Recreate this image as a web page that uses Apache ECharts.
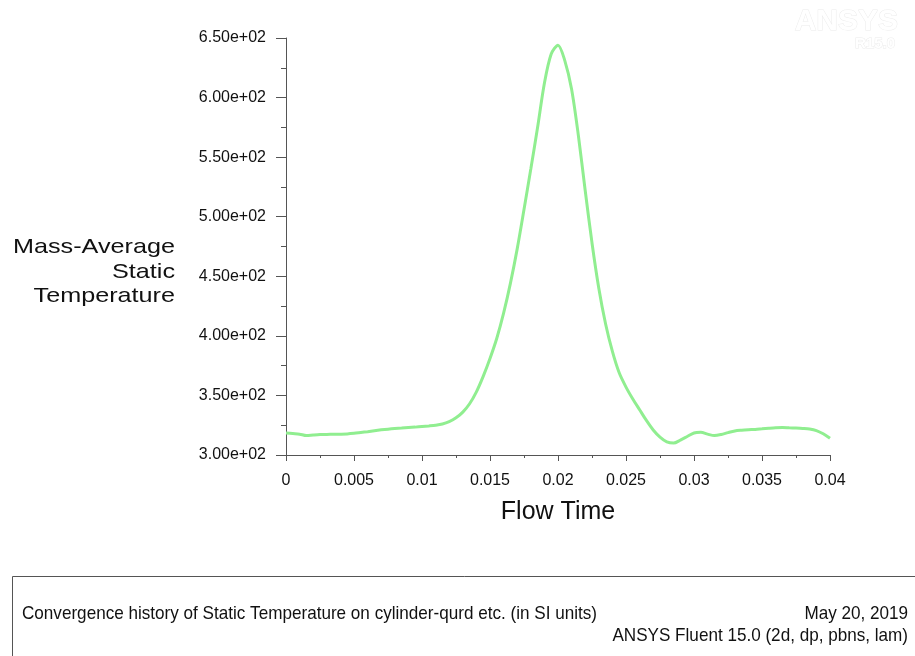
<!DOCTYPE html>
<html>
<head>
<meta charset="utf-8">
<script src="https://cdn.jsdelivr.net/npm/echarts@6/dist/echarts.min.js"></script>
<style>
  html, body { margin: 0; padding: 0; background: #ffffff; }
  #chart { width: 915px; height: 656px; }
</style>
</head>
<body>
<div id="chart"></div>
<script>
// Flow time (s) of each sample
const flowTime = [
  0.0000, 0.0005, 0.0010, 0.0015, 0.0020, 0.0025, 0.0030, 0.0035, 0.0040, 0.0045,
  0.0050, 0.0055, 0.0060, 0.0065, 0.0070, 0.0075, 0.0080, 0.0085, 0.0090, 0.0095,
  0.0100, 0.0105, 0.0110, 0.0115, 0.0120, 0.0125, 0.0130, 0.0135, 0.0140, 0.0145,
  0.0150, 0.0155, 0.0160, 0.0165, 0.0170, 0.0175, 0.0180, 0.0185, 0.0190, 0.0195,
  0.0200, 0.0205, 0.0210, 0.0215, 0.0220, 0.0225, 0.0230, 0.0235, 0.0240, 0.0245,
  0.0250, 0.0255, 0.0260, 0.0265, 0.0270, 0.0275, 0.0280, 0.0285, 0.0290, 0.0295,
  0.0300, 0.0305, 0.0310, 0.0315, 0.0320, 0.0325, 0.0330, 0.0335, 0.0340, 0.0345,
  0.0350, 0.0355, 0.0360, 0.0365, 0.0370, 0.0375, 0.0380, 0.0385, 0.0390, 0.0395,
  0.0400
];

// Mass-average static temperature (K) at each sample
const staticTemp = [
  318.5, 318.0, 317.5, 316.3, 316.8, 317.2, 317.3, 317.4, 317.5, 317.7,
  318.2, 318.9, 319.6, 320.4, 321.1, 321.7, 322.2, 322.6, 323.0, 323.4,
  323.9, 324.4, 325.0, 326.0, 328.0, 331.2, 336.0, 343.0, 353.0, 366.0,
  381.0, 398.0, 419.0, 444.0, 473.0, 506.0, 540.0, 575.0, 612.0, 636.5,
  644.0, 631.0, 607.0, 568.0, 522.0, 478.0, 440.0, 410.0, 387.0, 369.0,
  357.0, 347.0, 338.0, 329.0, 321.0, 315.0, 311.0, 310.0, 312.5, 315.5,
  318.5, 319.0, 317.5, 316.3, 317.2, 318.8, 320.2, 320.8, 321.2, 321.5,
  322.0, 322.5, 322.9, 323.0, 322.8, 322.6, 322.3, 321.8, 320.5, 317.8,
  314.0
];

// Axis tick labels
const xTickLabels = ['0', '0.005', '0.01', '0.015', '0.02', '0.025', '0.03', '0.035', '0.04'];
const yTickLabels = ['3.00e+02', '3.50e+02', '4.00e+02', '4.50e+02', '5.00e+02', '5.50e+02', '6.00e+02', '6.50e+02'];

const xMin = 0, xMax = 0.04, xStep = 0.005;
const yMin = 300, yMax = 650, yStep = 50;

const axisColor = '#555555';
const textColor = '#111111';
const labelFont = '"Liberation Sans", Arial, sans-serif';

const chart = echarts.init(document.getElementById('chart'), null, { renderer: 'canvas' });

chart.setOption({
  animation: false,
  backgroundColor: '#ffffff',
  grid: { left: 286, right: 85, top: 38, bottom: 201, containLabel: false },
  xAxis: {
    type: 'value',
    min: xMin, max: xMax, interval: xStep,
    name: 'Flow Time',
    nameLocation: 'middle',
    nameGap: 45,
    nameTextStyle: { fontFamily: labelFont, fontSize: 25, color: textColor },
    axisLine: { show: true, onZero: false, lineStyle: { color: axisColor, width: 1 } },
    axisTick: { show: true, inside: false, length: 6, lineStyle: { color: axisColor } },
    minorTick: { show: true, splitNumber: 2, length: 3, lineStyle: { color: axisColor } },
    splitLine: { show: false },
    axisLabel: {
      margin: 18,
      fontFamily: labelFont, fontSize: 16, color: textColor,
      formatter: (v) => xTickLabels[Math.round((v - xMin) / xStep)]
    }
  },
  yAxis: {
    type: 'value',
    min: yMin, max: yMax, interval: yStep,
    axisLine: { show: true, onZero: false, lineStyle: { color: axisColor, width: 1 } },
    axisTick: { show: true, inside: false, length: 10, lineStyle: { color: axisColor } },
    minorTick: { show: true, splitNumber: 2, length: 5, lineStyle: { color: axisColor } },
    splitLine: { show: false },
    axisLabel: {
      margin: 20,
      fontFamily: labelFont, fontSize: 16, color: textColor,
      formatter: (v) => yTickLabels[Math.round((v - yMin) / yStep)]
    }
  },
  series: [{
    type: 'line',
    data: flowTime.map((t, i) => [t, staticTemp[i]]),
    showSymbol: false,
    smooth: 0.3,
    lineStyle: { color: '#90ee90', width: 3 },
    silent: true
  }],
  graphic: [
    // vertical axis title, right aligned beside the tick labels
    {
      type: 'text',
      x: 175, y: 272,
      scaleX: 1.2,
      style: {
        text: 'Mass-Average\nStatic\nTemperature',
        align: 'right', verticalAlign: 'middle',
        font: '21px ' + labelFont,
        lineHeight: 24.5,
        fill: textColor
      }
    },
    // ANSYS watermark
    {
      type: 'text',
      x: 898, y: 22,
      style: {
        text: 'ANSYS', align: 'right', verticalAlign: 'middle',
        font: 'bold 30px ' + labelFont,
        fill: '#ffffff', stroke: '#ececec', lineWidth: 1
      }
    },
    {
      type: 'text',
      x: 895, y: 44,
      style: {
        text: 'R15.0', align: 'right', verticalAlign: 'middle',
        font: 'bold 15px ' + labelFont,
        fill: '#ffffff', stroke: '#ececec', lineWidth: 1
      }
    },
    // caption box
    {
      type: 'rect',
      shape: { x: 12.5, y: 576.5, width: 930, height: 120 },
      style: { fill: '#ffffff', stroke: '#555555', lineWidth: 1 }
    },
    {
      type: 'text',
      x: 22, y: 614,
      scaleX: 0.9,
      style: {
        text: 'Convergence history of Static Temperature on cylinder-qurd etc. (in SI units)',
        align: 'left', verticalAlign: 'middle',
        font: '19px ' + labelFont, fill: textColor
      }
    },
    {
      type: 'text',
      x: 908, y: 614,
      scaleX: 0.9,
      style: {
        text: 'May 20, 2019',
        align: 'right', verticalAlign: 'middle',
        font: '19px ' + labelFont, fill: textColor
      }
    },
    {
      type: 'text',
      x: 908, y: 636,
      scaleX: 0.9,
      style: {
        text: 'ANSYS Fluent 15.0 (2d, dp, pbns, lam)',
        align: 'right', verticalAlign: 'middle',
        font: '19px ' + labelFont, fill: textColor
      }
    }
  ]
});
</script>
</body>
</html>
